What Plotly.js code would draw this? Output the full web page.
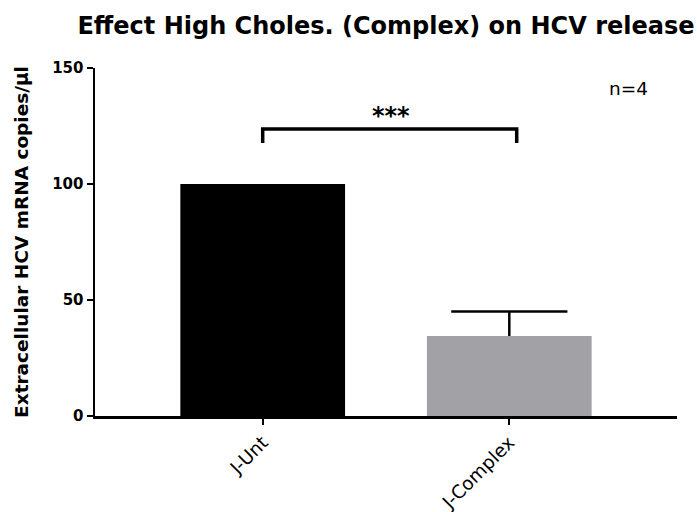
<!DOCTYPE html>
<html>
<head>
<meta charset="utf-8">
<script src="https://cdn.plot.ly/plotly-3.0.1.min.js"></script>
<style>
  html, body { margin: 0; padding: 0; background: #fff; }
  #chart { width: 697px; height: 512px; }
</style>
</head>
<body>
<div id="chart"></div>
<script>
// Group labels and mean extracellular HCV RNA (normalised to untreated = 100)
const groups = ["J-Unt", "J-Complex"];
const means = [100, 34.5];
const sdUpper = [null, 10.5];
const barColors = ["#000000", "#a2a1a6"];

// Significance bracket between the two groups
const bracketLow = 117.7;
const bracketHigh = 123.7;
const starsLabel = "***";
const starsY = 129.3;
const sampleNote = "n=4";

const FONT = "DejaVu Sans, Verdana, sans-serif";

const xIdx = groups.map((_, i) => i);

// Bars with an upward-only whisker (no cross-bar at the bar top)
const bars = {
  type: "bar",
  x: xIdx,
  y: means,
  width: 0.668,
  marker: { color: barColors, line: { width: 0 } },
  error_y: {
    type: "data",
    symmetric: false,
    array: sdUpper,
    arrayminus: sdUpper.map(v => (v == null ? null : 0)),
    color: "#000",
    thickness: 2.5,
    width: 0
  },
  hoverinfo: "none"
};

// Cross-bar at the end of each whisker
const capX = [], capY = [];
sdUpper.forEach((sd, i) => {
  if (sd != null) { capX.push(xIdx[i]); capY.push(means[i] + sd); }
});
const caps = {
  type: "scatter",
  mode: "markers",
  x: capX,
  y: capY,
  marker: { symbol: "line-ew", size: 83, line: { color: "#000", width: 2.5 } },
  hoverinfo: "none"
};

const layout = {
  width: 697,
  height: 512,
  margin: { l: 95, r: 20, t: 68, b: 96 },
  paper_bgcolor: "#fff",
  plot_bgcolor: "#fff",
  showlegend: false,
  title: {
    text: "Effect High Choles. (Complex) on HCV release",
    font: { family: FONT, size: 24, color: "#000", weight: 700 },
    x: 0.5,
    xref: "paper",
    xanchor: "center",
    y: 1 - 26 / 512,
    yanchor: "middle"
  },
  xaxis: {
    range: [-0.68, 1.68],
    tickvals: xIdx,
    ticktext: groups,
    tickangle: -45,
    ticks: "outside",
    ticklen: 6,
    tickwidth: 2,
    tickcolor: "#000",
    showline: true,
    linecolor: "#000",
    linewidth: 2.5,
    showgrid: false,
    zeroline: false,
    tickfont: { family: FONT, size: 18.5, color: "#000" }
  },
  yaxis: {
    range: [0, 150],
    tickvals: [0, 50, 100, 150],
    ticks: "outside",
    ticklen: 6,
    tickwidth: 2,
    tickcolor: "#000",
    showline: true,
    linecolor: "#000",
    linewidth: 2.5,
    showgrid: false,
    zeroline: false,
    tickfont: { family: FONT, size: 15, color: "#000", weight: 700 },
    title: {
      text: "Extracellular HCV mRNA copies/μl",
      font: { family: FONT, size: 18.5, color: "#000", weight: 700 },
      standoff: 19
    }
  },
  shapes: [
    {
      type: "path",
      xref: "x",
      yref: "y",
      path: "M 0," + bracketLow + " L 0," + bracketHigh + " L 1.03," + bracketHigh + " L 1.03," + bracketLow,
      line: { color: "#000", width: 3.5 }
    }
  ],
  annotations: [
    {
      x: 0.52,
      y: starsY,
      xref: "x",
      yref: "y",
      xanchor: "center",
      yanchor: "middle",
      text: starsLabel,
      showarrow: false,
      font: { family: FONT, size: 24, color: "#000", weight: 700 }
    },
    {
      x: 0.916,
      y: 0.9425,
      xref: "paper",
      yref: "paper",
      xanchor: "center",
      yanchor: "middle",
      text: sampleNote,
      showarrow: false,
      font: { family: FONT, size: 18.5, color: "#000" }
    }
  ]
};

Plotly.newPlot("chart", [bars, caps], layout, { displayModeBar: false, staticPlot: true });
</script>
</body>
</html>
